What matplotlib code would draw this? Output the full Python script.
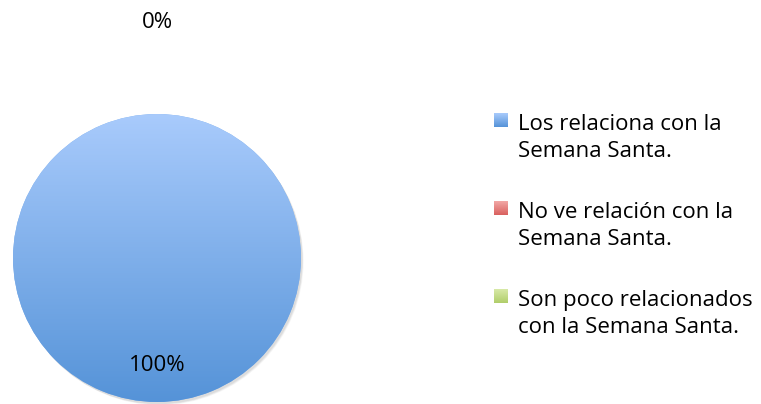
import matplotlib
matplotlib.use("Agg")
import matplotlib.pyplot as plt
import numpy as np
from matplotlib.patches import Rectangle, Circle
from matplotlib.colors import LinearSegmentedColormap

categories = ["Los relaciona con la\nSemana Santa.",
              "No ve relación con la\nSemana Santa.",
              "Son poco relacionados\ncon la Semana Santa."]
values = [100, 0, 0]
pct_labels = ["100%", "0%", "0%"]
colors = ["#7eb0ec", "#e2807e", "#c3da8c"]
gradients = [("#5593d8", "#a9cbfc"), ("#d9605e", "#f2a8a6"), ("#b0cd6a", "#d8eaa8")]

plt.rcParams["font.family"] = ["Open Sans", "DejaVu Sans"]

W, H = 761, 404
fig = plt.figure(figsize=(W / 100, H / 100), dpi=100)

cx, cy, r = 157, 146, 144  # pixel centre (from bottom) and radius
lim = 1.05
half = r * lim
ax = fig.add_axes([(cx - half) / W, (cy - half) / H, 2 * half / W, 2 * half / H])

# soft drop shadow
for i, a in enumerate([0.05, 0.05, 0.04]):
    ax.add_patch(Circle((0.010 + 0.004 * i, -0.014 - 0.004 * i), 1.0,
                        color="black", alpha=a, lw=0, zorder=0))

wedges, _ = ax.pie(values, colors=colors, startangle=90, counterclock=False,
                   radius=1.0, wedgeprops=dict(linewidth=0))
for w in wedges:
    w.set_zorder(1)

ax.set_aspect("equal")
ax.axis("off")

# vertical gradient fill on the visible wedge
grad = LinearSegmentedColormap.from_list("blue", list(gradients[0]))
g = np.linspace(0, 1, 256).reshape(-1, 1)
im = ax.imshow(g, cmap=grad, extent=[-1, 1, -1, 1], origin="lower",
               aspect="auto", zorder=2)
im.set_clip_path(wedges[0])
ax.set_xlim(-lim, lim)
ax.set_ylim(-lim, lim)

# percentage labels placed at each wedge's mid-angle
dists = [0.745, 1.636, 1.636]
shown = set()
for w, lab, d in zip(wedges, pct_labels, dists):
    ang = np.deg2rad((w.theta1 + w.theta2) / 2)
    pos = (round(d * np.cos(ang), 3), round(d * np.sin(ang), 3))
    if pos in shown:
        continue
    shown.add(pos)
    ax.text(pos[0], pos[1], lab, ha="center", va="center", fontsize=16,
            color="black", zorder=5, clip_on=False)

# legend: small gradient squares beside two-line labels
lax = fig.add_axes([0, 0, 1, 1], facecolor="none")
y0, step = 113, 88
for i, (lab, (c0, c1)) in enumerate(zip(categories, gradients)):
    y = y0 + i * step
    cm = LinearSegmentedColormap.from_list("k%d" % i, [c1, c0])
    sq = Rectangle((494, y), 14, 14, facecolor="none", edgecolor="none")
    lax.add_patch(sq)
    key = lax.imshow(g, cmap=cm, extent=[494, 508, y + 14, y],
                     origin="upper", aspect="auto")
    key.set_clip_path(sq)
    lax.text(518, y + 1, lab, ha="left", va="top", fontsize=16,
             linespacing=1.4, color="black")
lax.set_xlim(0, W)
lax.set_ylim(H, 0)
lax.axis("off")

fig.savefig("out.png", dpi=100)
